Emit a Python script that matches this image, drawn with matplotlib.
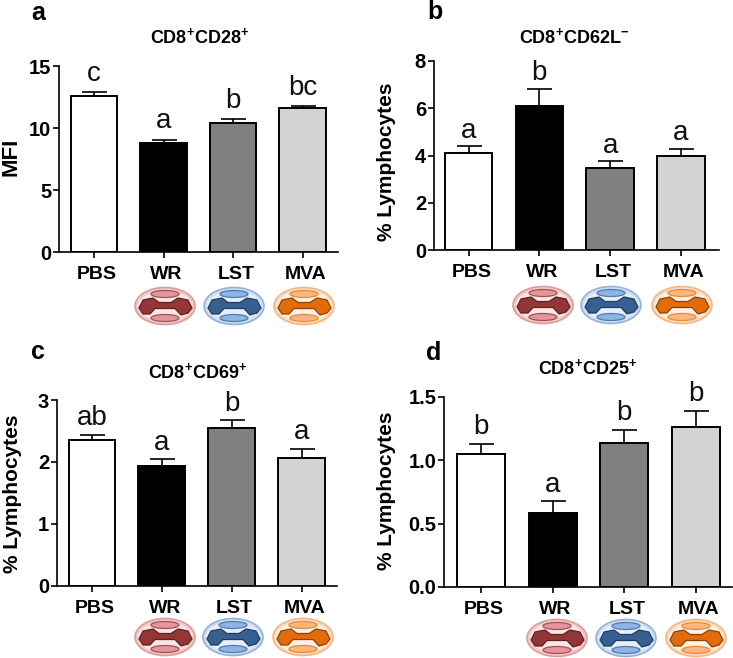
import matplotlib
matplotlib.use('Agg')
import numpy as np
import matplotlib.pyplot as plt
from matplotlib.patches import Ellipse, Polygon
from matplotlib.transforms import ScaledTranslation

plt.rcParams['font.family'] = ['Liberation Sans', 'DejaVu Sans']
plt.rcParams['mathtext.fontset'] = 'custom'
plt.rcParams['mathtext.bf'] = 'Liberation Sans:bold'
plt.rcParams['mathtext.rm'] = 'Liberation Sans'

W, H = 733, 658

groups = ['PBS', 'WR', 'LST', 'MVA']

titles = [r'$\mathbf{CD8^{+}CD28^{+}}$', r'$\mathbf{CD8^{+}CD62L^{-}}$',
          r'$\mathbf{CD8^{+}CD69^{+}}$', r'$\mathbf{CD8^{+}CD25^{+}}$']
panel_names = ['a', 'b', 'c', 'd']
ylabels = ['MFI', '% Lymphocytes', '% Lymphocytes', '% Lymphocytes']

means_a = [12.62, 8.80, 10.37, 11.60]
means_b = [4.09, 6.08, 3.48, 4.00]
means_c = [2.35, 1.93, 2.54, 2.06]
means_d = [1.047, 0.585, 1.136, 1.26]

errs_a = [0.27, 0.27, 0.38, 0.17]
errs_b = [0.31, 0.75, 0.29, 0.29]
errs_c = [0.09, 0.11, 0.13, 0.15]
errs_d = [0.083, 0.09, 0.104, 0.126]

letters_a = ['c', 'a', 'b', 'bc']
letters_b = ['a', 'b', 'a', 'a']
letters_c = ['ab', 'a', 'b', 'a']
letters_d = ['b', 'a', 'b', 'b']

yticks_a = [0, 5, 10, 15]
yticks_b = [0, 2, 4, 6, 8]
yticks_c = [0, 1, 2, 3]
yticks_d = [0.0, 0.5, 1.0, 1.5]

bar_colors = ['white', 'black', '#808080', '#d3d3d3']

# outer fill, outer edge, pale middle, bone fill, bone edge, inner fill, inner edge
icon_colors = [('#f3c9c9', '#dc9c9c', '#fae6e6', '#943634', '#5e2120', '#e3979c', '#a85055'),
               ('#cfdff3', '#95b3d7', '#e6eff9', '#376092', '#213c5e', '#8eb4e3', '#4f7cb0'),
               ('#fcdcc2', '#f6b683', '#fef0e4', '#e36c09', '#8a4306', '#fbb77e', '#e98a35')]

# bone outline of the mitochondrion, pixels around the icon centre
bone = np.array([[-26, 2], [-22, -6], [-12, -8], [-6, -3.5], [6, -3.5], [13, -8],
                 [23, -6], [27, 2], [23, 7], [16, 9], [10, 2.5], [-10, 2.5],
                 [-15, 8], [-22, 8]])


def fig_x(px):
    return px / W


def fig_y(py):
    return 1 - py / H


def draw_icon(over, cx, cy, cols):
    outer, outer_e, middle, fill, fill_e, inner, inner_e = cols
    over.add_patch(Ellipse((cx, cy), 60, 37, fc=outer, ec=outer_e, lw=1.2))
    over.add_patch(Ellipse((cx, cy), 54, 31, fc=middle, ec='none'))
    over.add_patch(Ellipse((cx, cy - 12), 28, 7, fc=inner, ec=inner_e, lw=0.9))
    over.add_patch(Ellipse((cx, cy + 12), 28, 7, fc=inner, ec=inner_e, lw=0.9))
    over.add_patch(Polygon(bone + [cx, cy], closed=True, fc=fill, ec=fill_e,
                           lw=0.9, joinstyle='round'))


def draw_panel(fig, rect, centers, means, errs, letters, yticks, ymax, fmt, gap):
    left, right, top, bottom = rect
    ax = fig.add_axes([fig_x(left), fig_y(bottom), (right - left) / W, (bottom - top) / H])

    # x scale: bar index, one unit is the bar spacing
    step = (centers[3] - centers[0]) / 3.0
    ax.set_xlim((left - centers[0]) / step, (right - centers[0]) / step)
    ax.set_ylim(0, ymax)

    x = np.arange(len(groups))
    ax.bar(x, means, width=0.67, color=bar_colors, edgecolor='black', linewidth=1.4,
           zorder=3)
    ax.errorbar(x, means, yerr=[np.zeros(4), errs], fmt='none', ecolor='black',
                elinewidth=1.2, capsize=9, capthick=1.2, zorder=2)

    for i in range(4):
        ax.annotate(letters[i], (i, means[i] + errs[i]), xytext=(0, gap),
                    textcoords='offset points', ha='center', va='baseline',
                    fontsize=20, color='#111111', annotation_clip=False)

    ax.spines['top'].set_visible(False)
    ax.spines['right'].set_visible(False)
    ax.spines['left'].set_linewidth(1.2)
    ax.spines['bottom'].set_linewidth(1.2)
    ax.spines['left'].set_bounds(0, ymax)

    ax.set_yticks(yticks)
    ax.set_yticklabels([fmt % t for t in yticks], fontsize=14.5, fontweight='bold')
    ax.set_xticks(x)
    ax.set_xticklabels(groups, fontsize=14, fontweight='bold')
    ax.tick_params(axis='both', length=4, width=1.2, color='black')
    ax.tick_params(axis='x', pad=6)
    ax.tick_params(axis='y', pad=1.5)

    shift = ScaledTranslation(3 / 100, 0, fig.dpi_scale_trans)
    for lab in ax.get_xticklabels():
        lab.set_transform(lab.get_transform() + shift)
    return ax


fig = plt.figure(figsize=(W / 100, H / 100), dpi=100, facecolor='white')

draw_panel(fig, (59, 338, 66, 252), (94, 163.5, 233, 302.5),
           means_a, errs_a, letters_a, yticks_a, 15, '%d', 8)
draw_panel(fig, (433.7, 719, 61, 250), (468.5, 539.7, 610.5, 681),
           means_b, errs_b, letters_b, yticks_b, 8, '%d', 6)
draw_panel(fig, (56.7, 337, 400, 585.7), (92, 161.7, 231.7, 301.5),
           means_c, errs_c, letters_c, yticks_c, 3, '%d', 7)
draw_panel(fig, (444, 732, 396.7, 587), (481, 552.5, 624, 696),
           means_d, errs_d, letters_d, yticks_d, 1.5, '%.1f', 7)

title_pos = [(200, 37), (574, 37), (198, 372), (588, 368)]
letter_pos = [(31, 13), (427, 12), (31, 352), (426, 353)]
ylabel_pos = [(11, 157), (386, 162), (13, 494), (386, 491)]
for i in range(4):
    fig.text(fig_x(title_pos[i][0]), fig_y(title_pos[i][1]), titles[i], fontsize=13,
             ha='center', va='center')
    fig.text(fig_x(letter_pos[i][0]), fig_y(letter_pos[i][1]), panel_names[i], fontsize=18,
             fontweight='bold', ha='left', va='center')
    fig.text(fig_x(ylabel_pos[i][0]), fig_y(ylabel_pos[i][1]), ylabels[i],
             fontsize=16 if i == 0 else 15, fontweight='bold', rotation=90,
             ha='center', va='center')

# icons sit on a see-through layer in pixel coordinates
over = fig.add_axes([0, 0, 1, 1], facecolor='none')
over.set_xlim(0, W)
over.set_ylim(H, 0)
over.axis('off')
icon_x = [(165, 234, 304), (543, 611, 682), (165, 233, 303), (557, 626, 696)]
icon_y = [306, 305, 637, 638]
for i in range(4):
    for j in range(3):
        draw_icon(over, icon_x[i][j], icon_y[i], icon_colors[j])

fig.savefig('out.png', dpi=100)
